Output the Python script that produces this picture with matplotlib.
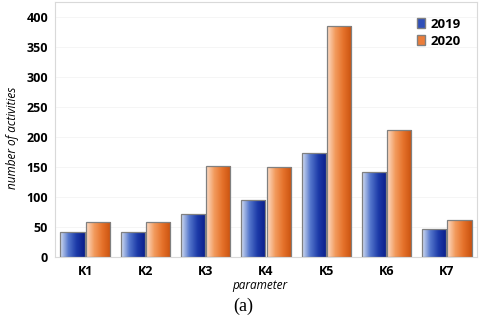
import numpy as np
import matplotlib.pyplot as plt
from matplotlib.colors import LinearSegmentedColormap
from matplotlib.patches import Patch

categories = ['K1', 'K2', 'K3', 'K4', 'K5', 'K6', 'K7']
vals_2019 = [41, 41, 72, 95, 174, 142, 46]
vals_2020 = [59, 59, 152, 150, 385, 211, 61]
yticks = [0, 50, 100, 150, 200, 250, 300, 350, 400]

blue_cm = LinearSegmentedColormap.from_list('b', ['#d3def2', '#5577cc', '#1c3aa8', '#0a1d8a'])
orange_cm = LinearSegmentedColormap.from_list('o', ['#fcdcc6', '#f29a5c', '#e5712a', '#c9520f'])

fig = plt.figure(figsize=(4.8, 3.18), dpi=100)
ax = fig.add_axes([0.1146, 0.192, 0.8792, 0.802])

x = np.arange(len(categories))
w = 0.4
gap = 0.02
grad = np.linspace(0, 1, 64).reshape(1, -1)

def gradient_bars(xpos, vals, cmap):
    bars = ax.bar(xpos, vals, w, facecolor='none', edgecolor='#808080', linewidth=0.9, zorder=3)
    for b in bars:
        x0, y0 = b.get_x(), b.get_y()
        im = ax.imshow(grad, cmap=cmap, aspect='auto', zorder=2,
                       extent=(x0, x0 + b.get_width(), y0, y0 + b.get_height()))
        im.set_clip_path(b)
    return bars

gradient_bars(x - w / 2 - gap / 2, vals_2019, blue_cm)
gradient_bars(x + w / 2 + gap / 2, vals_2020, orange_cm)

ax.set_xlim(-0.5, len(categories) - 0.5)
ax.set_ylim(0, 425)
ax.set_yticks(yticks)
ax.set_xticks(x)
ax.set_xticklabels(categories)
ax.grid(axis='y', color='#f4f4f4', linewidth=0.6, zorder=0)
ax.set_axisbelow(True)
for s in ax.spines.values():
    s.set_color('#d9d9d9')
    s.set_linewidth(0.8)
ax.tick_params(length=0, labelsize=9, pad=5)
for t in ax.get_xticklabels() + ax.get_yticklabels():
    t.set_fontweight('bold')
    t.set_family('Open Sans')
ax.tick_params(axis='x', pad=6)

ax.set_ylabel('number of activities', style='italic', fontsize=8.5, family='Open Sans')
ax.yaxis.set_label_coords(-0.085, 0.467)
ax.set_xlabel('parameter', style='italic', fontsize=8.5, family='Open Sans')
ax.xaxis.set_label_coords(0.485, -0.088)

handles = [Patch(facecolor='#2f4fb8', edgecolor='#808080', label='2019'),
           Patch(facecolor='#ec7d3a', edgecolor='#808080', label='2020')]
leg = ax.legend(handles=handles, loc='upper right', frameon=False,
                prop={'family': 'Open Sans', 'weight': 'bold', 'size': 9.5},
                handlelength=0.6, handleheight=0.8, handletextpad=0.4,
                labelspacing=0.3, borderaxespad=0.5, bbox_to_anchor=(0.99, 0.985))

fig.text(0.506, 0.036, '(a)', ha='center', va='center', family='Liberation Serif', fontsize=13)

fig.savefig('out.png', dpi=100)
